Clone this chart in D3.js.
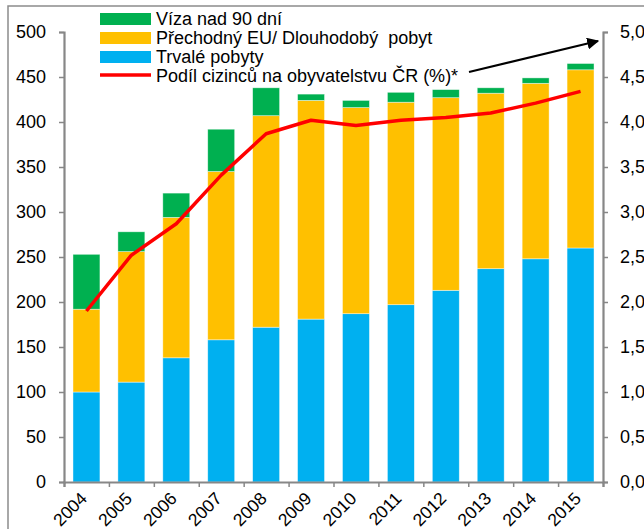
<!DOCTYPE html>
<html>
<head>
<meta charset="utf-8">
<script src="https://cdn.jsdelivr.net/npm/d3@7"></script>
<style>
  body { margin: 0; background: #fff; }
  text { font-family: "Liberation Sans", Arial, sans-serif; fill: #000; }
</style>
</head>
<body>
<div id="chart"></div>
<script>
// years on the x axis
var years = ["2004", "2005", "2006", "2007", "2008", "2009", "2010", "2011", "2012", "2013", "2014", "2015"];
// stacked series (thousands)
var trvale = [100, 111, 138, 158, 172, 181, 187, 197, 213, 237, 248, 260];
var prechodny = [92, 145, 156, 187, 235, 243, 229, 225, 214, 195, 195, 198];
var viza = [61, 22, 27, 47, 31, 7, 8, 11, 9, 6, 6, 7];
// share of foreigners (%)
var podil = [1.9, 2.52, 2.87, 3.41, 3.87, 4.02, 3.96, 4.02, 4.05, 4.10, 4.21, 4.34];
// tick labels
var leftTicks = [0, 50, 100, 150, 200, 250, 300, 350, 400, 450, 500];
var rightTicks = [0, 0.5, 1, 1.5, 2, 2.5, 3, 3.5, 4, 4.5, 5];
var seriesNames = ["Víza nad 90 dní", "Přechodný EU/ Dlouhodobý  pobyt", "Trvalé pobyty", "Podíl cizinců na obyvatelstvu ČR (%)*"];

var width = 644, height = 529;
var plotLeft = 64, plotRight = 603, plotTop = 32, plotBottom = 482;
var axisColor = "#878787";

var svg = d3.select('#chart').append('svg')
      .attr('width', width)
      .attr('height', height);

//outer frame
svg.append('path')
      .attr('d', 'M8,' + height + 'V6H' + width)
      .attr('fill', 'none')
      .attr('stroke', '#8c8c8c')
      .attr('stroke-width', 1.5);

var x = d3.scaleBand().domain(years).range([plotLeft, plotRight]).paddingInner(0.4).paddingOuter(0.2);
var y = d3.scaleLinear().domain([0, 500]).range([plotBottom, plotTop]);
var y2 = d3.scaleLinear().domain([0, 5]).range([plotBottom, plotTop]);

//stack data
var table = years.map(function (yr, i) {
      return { year: yr, trvale: trvale[i], prechodny: prechodny[i], viza: viza[i] };
});
var keys = ["trvale", "prechodny", "viza"];
var color = d3.scaleOrdinal().domain(keys).range(["#00B0F0", "#FFC000", "#00B050"]);
var stack = d3.stack().keys(keys)(table);

svg.append('g').selectAll('g')
      .data(stack)
      .enter().append('g')
      .attr('fill', function (d) { return color(d.key); })
      .selectAll('rect')
      .data(function (d) { return d; })
      .enter().append('rect')
      .attr('x', function (d) { return x(d.data.year); })
      .attr('width', x.bandwidth())
      .attr('y', function (d) { return y(d[1]); })
      .attr('height', function (d) { return y(d[0]) - y(d[1]); })
      .attr('stroke', 'rgba(255,255,255,0.6)')
      .attr('stroke-width', 0.7);

//left axis
var leftAxis = svg.append('g')
      .attr('transform', 'translate(' + plotLeft + ',0)')
      .call(d3.axisLeft(y).tickValues(leftTicks).tickSize(5).tickPadding(13).tickFormat(d3.format('d')));
//right axis
var rightAxis = svg.append('g')
      .attr('transform', 'translate(' + plotRight + ',0)')
      .call(d3.axisRight(y2).tickValues(rightTicks).tickSize(5).tickPadding(12).tickFormat(function (d) { return d3.format('.1f')(d).replace('.', ','); }));
//bottom axis, ticks between categories
var xEdges = d3.scaleLinear().domain([0, years.length]).range([plotLeft, plotRight]);
var bottomAxis = svg.append('g')
      .attr('transform', 'translate(0,' + plotBottom + ')')
      .call(d3.axisBottom(xEdges).ticks(years.length).tickSize(5).tickFormat(''));

[leftAxis, rightAxis, bottomAxis].forEach(function (a) {
      a.select('.domain').attr('stroke', axisColor).attr('stroke-width', 2.2);
      a.selectAll('.tick line').attr('stroke', axisColor).attr('stroke-width', 1.5);
      a.selectAll('text').attr('font-size', 18).attr('font-family', '"Liberation Sans", Arial, sans-serif').attr('fill', '#000');
});

//year labels
svg.append('g').selectAll('text')
      .data(years)
      .enter().append('text')
      .attr('transform', function (d) { return 'translate(' + (x(d) + x.bandwidth() / 2 - 7) + ',' + (plotBottom + 9) + ') rotate(-45)'; })
      .attr('text-anchor', 'end')
      .attr('dy', '0.7em')
      .attr('font-size', 17.5)
      .text(function (d) { return d; });

//share line
var line = d3.line()
      .x(function (d, i) { return x(years[i]) + x.bandwidth() / 2; })
      .y(function (d) { return y2(d); });
svg.append('path')
      .datum(podil)
      .attr('d', line)
      .attr('fill', 'none')
      .attr('stroke', '#FF0000')
      .attr('stroke-width', 3.5)
      .attr('stroke-linejoin', 'round');

//legend
var legend = svg.append('g');
var swatch = ["viza", "prechodny", "trvale"];
swatch.forEach(function (k, i) {
      legend.append('rect')
            .attr('x', 100).attr('y', 13 + i * 19)
            .attr('width', 51).attr('height', 12)
            .attr('fill', color(k));
});
legend.append('line')
      .attr('x1', 100).attr('x2', 151)
      .attr('y1', 75).attr('y2', 75)
      .attr('stroke', '#FF0000').attr('stroke-width', 3.5);
legend.selectAll('text')
      .data(seriesNames)
      .enter().append('text')
      .attr('x', 156)
      .attr('y', function (d, i) { return 19 + i * 19; })
      .attr('dy', '0.35em')
      .attr('font-size', 18)
      .style('white-space', 'pre')
      .text(function (d) { return d; });

//arrow pointing to right axis
var defs = svg.append('defs');
defs.append('marker')
      .attr('id', 'arrow')
      .attr('viewBox', '0 0 10 10')
      .attr('refX', 9).attr('refY', 5)
      .attr('markerWidth', 6).attr('markerHeight', 6)
      .attr('orient', 'auto')
      .append('path')
      .attr('d', 'M0,0L10,5L0,10Z')
      .attr('fill', '#000');
svg.append('line')
      .attr('x1', 469).attr('y1', 72)
      .attr('x2', 598).attr('y2', 41)
      .attr('stroke', '#000').attr('stroke-width', 2)
      .attr('marker-end', 'url(#arrow)');
</script>
</body>
</html>
